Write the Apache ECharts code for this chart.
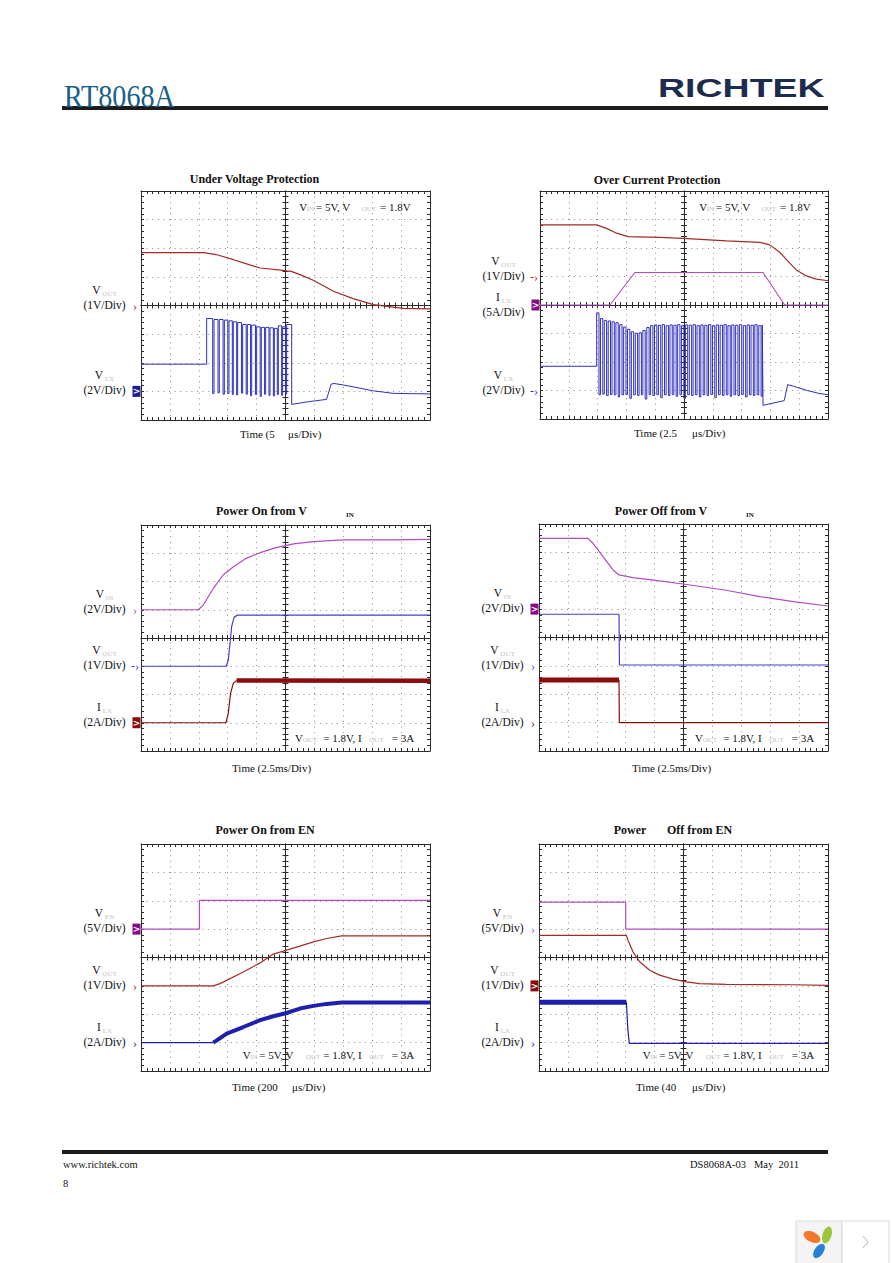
<!DOCTYPE html>
<html><head><meta charset="utf-8">
<script src="https://cdn.jsdelivr.net/npm/echarts@6/dist/echarts.min.js"></script>
<style>html,body{margin:0;padding:0;background:#fff}#c{width:892px;height:1263px}</style>
</head><body><div id="c"></div>
<script>
// ===================== DATA (read from the scope shots) =====================
// --- Under Voltage Protection (t in µs, V) ---
const uvpVout = [[0,1.85],[10.8,1.85],[13,1.78],[16,1.60],[18,1.47],[20.6,1.31],[24.6,1.23],[25.2,1.21],[26,1.19],[27.5,1.08],[29.8,0.88],[33.3,0.50],[36.7,0.24],[40.2,0.03],[45.4,-0.10],[50,-0.12]];
const uvpLxStart = [[0,1.90],[11.36,1.90]];
// each pulse: [t rise, V high, t fall, V low]
const uvpLxPulses = [
 [11.36,5.09,12.40,-0.15],[12.63,5.02,13.32,-0.10],[13.55,5.02,14.20,-0.20],[14.42,4.98,15.02,-0.15],
 [15.22,4.93,15.80,-0.22],[15.97,4.86,16.55,-0.25],[16.72,4.81,17.38,-0.12],[17.59,4.67,18.20,-0.20],
 [18.40,4.67,18.96,-0.30],[19.15,4.63,19.80,-0.22],[20.01,4.51,20.62,-0.35],[20.82,4.47,21.38,-0.20],
 [21.57,4.47,22.14,-0.28],[22.32,4.44,22.90,-0.32],[23.07,4.40,23.58,-0.22],[23.76,4.58,24.33,-0.28],
 [24.51,4.51,25.02,-0.20],[25.20,4.67,26.07,-0.91]];
const uvpLxEnd = [[29,-0.72],[32.1,-0.56],[32.9,0.51],[33.4,0.55],[35,0.45],[37.9,0.22],[40,0.05],[43.7,-0.14],[47,-0.16],[50,-0.18]];

// --- Over Current Protection (t in µs) ---
const ocpVout = [[0,1.81],[4.9,1.81],[5.78,1.69],[6.65,1.52],[7.66,1.40],[10.4,1.37],[12.43,1.34],[16.2,1.25],[19.1,1.20],[19.94,1.11],[20.81,0.85],[21.68,0.47],[22.25,0.23],[23.12,0.02],[23.99,-0.09],[24.86,-0.14],[25,-0.15]];
const ocpIl = [[0,0],[6.07,0],[8.24,5.7],[19.36,5.7],[21.24,0],[25,0]];
const ocpLxStart = [[0,1.70],[4.92,1.70]];
const ocpLxPulses = [
 [4.92,5.45,5.12,-0.30],[5.25,5.05,5.45,-0.25],[5.58,4.92,5.78,-0.35],[5.92,4.88,6.12,-0.28],
 [6.25,4.82,6.45,-0.30],[6.59,4.76,6.79,-0.45],[6.92,4.62,7.12,-0.30],[7.26,4.45,7.46,-0.28],
 [7.60,4.30,7.80,-0.55],[7.93,4.12,8.13,-0.30],[8.27,4.02,8.47,-0.35],[8.60,4.05,8.80,-0.30],
 [8.93,4.22,9.13,-0.60],[9.27,4.42,9.47,-0.30],[9.60,4.55,9.80,-0.35],[9.94,4.60,10.14,-0.30],
 [10.28,4.58,10.48,-0.50],[10.61,4.62,10.81,-0.30],[10.95,4.55,11.15,-0.35],[11.28,4.60,11.48,-0.28],
 [11.62,4.58,11.82,-0.40],[11.95,4.62,12.15,-0.30],[12.29,4.55,12.49,-0.55],[12.62,4.60,12.82,-0.30],
 [12.96,4.58,13.16,-0.35],[13.29,4.62,13.49,-0.30],[13.63,4.55,13.83,-0.45],[13.96,4.60,14.16,-0.30],
 [14.30,4.58,14.50,-0.35],[14.63,4.62,14.83,-0.28],[14.97,4.55,15.17,-0.50],[15.30,4.60,15.50,-0.30],
 [15.64,4.58,15.84,-0.35],[15.97,4.62,16.17,-0.30],[16.31,4.55,16.51,-0.40],[16.64,4.60,16.84,-0.30],
 [16.98,4.58,17.18,-0.35],[17.31,4.62,17.51,-0.28],[17.65,4.55,17.85,-0.45],[17.98,4.60,18.18,-0.30],
 [18.32,4.58,18.52,-0.35],[18.65,4.62,18.85,-0.30],[18.99,4.55,19.19,-0.40],[19.30,4.60,19.36,-1.04]];
const ocpLxEnd = [[21.2,-0.71],[21.5,0.41],[22.0,0.30],[23.2,0.00],[24.3,-0.22],[25,-0.29]];

// --- Power On from VIN (t in ms) ---
const pvinOnVin = [[0,0],[4.96,0],[5.4,0.35],[6.26,1.52],[7.1,2.46],[8.0,3.05],[9.1,3.64],[10.3,4.04],[11.7,4.40],[13.2,4.66],[14.9,4.82],[17.5,4.94],[21.8,4.95],[25,4.98]];
const pvinOnVout = [[0,0],[7.38,0],[7.55,0.22],[7.70,0.81],[7.84,1.40],[8.05,1.73],[8.35,1.81],[25,1.81]];
const pvinOnIl = [[0,0],[7.35,0],[7.55,0.67],[7.75,2.08],[7.98,2.79],[8.27,3.0]];
const pvinOnIlRipple = [[8.27,3.0],[25,2.98]];

// --- Power Off from VIN (t in ms) ---
const pvinOffVin = [[0,4.99],[4.24,4.99],[4.67,4.64],[5.54,3.70],[6.40,2.76],[6.92,2.41],[8.13,2.22],[10.44,1.99],[12.46,1.77],[16.2,1.33],[19.1,0.88],[22.0,0.53],[25,0.22]];
const pvinOffVout = [[0,1.82],[6.92,1.82],[6.96,0.03],[25,0.03]];
const pvinOffIlRipple = [[0,3.0],[6.92,3.0]];
const pvinOffIl = [[6.92,3.0],[6.95,0],[25,0]];

// --- Power On from EN (t in µs) ---
const enOnVen = [[0,0],[404,0],[404,5.05],[2000,5.05]];
const enOnVout = [[0,0],[500,0],[547,0.08],[708,0.49],[824,0.81],[916,1.12],[1008,1.26],[1100,1.40],[1193,1.55],[1285,1.67],[1389,1.76],[2000,1.76]];
const enOnIl = [[0,0],[500,0]];
const enOnIlRipple = [[500,0],[524,0.16],[593,0.64],[708,1.10],[824,1.58],[916,1.86],[1008,2.09],[1100,2.40],[1193,2.59],[1285,2.73],[1389,2.82],[2000,2.82]];

// --- Power Off from EN (t in µs) ---
const enOffVen = [[0,4.75],[120,4.75],[120,0],[400,0]];
const enOffVout = [[0,1.78],[120.9,1.78],[123.2,1.61],[130.1,1.20],[139.3,0.85],[153.2,0.55],[167,0.38],[185.5,0.24],[203.9,0.14],[222.4,0.08],[259.3,0.05],[351.6,0.04],[400,0.02]];
const enOffIlRipple = [[0,2.85],[121,2.85]];
const enOffIl = [[121,2.85],[123,0.9],[125,-0.05],[400,-0.05]];

// ===================== BUILD =====================
function pulseTrace(start, pulses, end){
  const pts = start.slice();
  pulses.forEach(p=>{
    const last = pts[pts.length-1][1];
    pts.push([p[0], last],[p[0], p[1]],[p[2], p[1]],[p[2], p[3]]);
  });
  return pts.concat(end);
}
const uvpVlx = pulseTrace(uvpLxStart, uvpLxPulses, uvpLxEnd);
const ocpVlx = pulseTrace(ocpLxStart, ocpLxPulses, ocpLxEnd);

const FONT = '"Liberation Serif","Times New Roman",serif';
const COL = {red:'#a22a2a', dred:'#8b0c0c', blue:'#2f2fbf', vblue:'#4040cc', iblue:'#1f1fae', mag:'#b24cc2', purp:'#870a86', navy:'#1a1a9c'};

const plots = [
 {grid:{left:141,top:191,width:289,height:229}, tMax:50, ch:[
   {n:'V',s:'OUT',d:'(1V/Div)',g:4,k:1,c:COL.red,m:'arrow',tr:[[uvpVout,1.2]]},
   {n:'V',s:'LX',d:'(2V/Div)',g:1,k:2,c:COL.blue,m:'box',mc:COL.navy,tr:[[uvpVlx,1]]}]},
 {grid:{left:540,top:191,width:288,height:228}, tMax:25, ch:[
   {n:'V',s:'OUT',d:'(1V/Div)',g:5,k:1,c:COL.red,m:'dash',tr:[[ocpVout,1.2]]},
   {n:'I',s:'LX',d:'(5A/Div)',g:4,k:5,c:COL.mag,m:'box',mc:COL.purp,dy:8,tr:[[ocpIl,1.1]]},
   {n:'V',s:'LX',d:'(2V/Div)',g:1,k:2,c:COL.blue,m:'dash',tr:[[ocpVlx,1]]}]},
 {grid:{left:141,top:525,width:289,height:226}, tMax:25, ch:[
   {n:'V',s:'IN',d:'(2V/Div)',g:5,k:2,c:COL.mag,m:'arrow',tr:[[pvinOnVin,1.2]]},
   {n:'V',s:'OUT',d:'(1V/Div)',g:3,k:1,c:COL.vblue,m:'dash',tr:[[pvinOnVout,1.2]]},
   {n:'I',s:'LX',d:'(2A/Div)',g:1,k:2,c:COL.dred,m:'box',mc:COL.dred,tr:[[pvinOnIl,1.2],[pvinOnIlRipple,4.5]]}]},
 {grid:{left:539,top:524,width:289,height:227}, tMax:25, ch:[
   {n:'V',s:'IN',d:'(2V/Div)',g:5,k:2,c:COL.mag,m:'box',mc:COL.purp,tr:[[pvinOffVin,1.2]]},
   {n:'V',s:'OUT',d:'(1V/Div)',g:3,k:1,c:COL.vblue,m:'arrow',tr:[[pvinOffVout,1.2]]},
   {n:'I',s:'LX',d:'(2A/Div)',g:1,k:2,c:COL.dred,m:'arrow',tr:[[pvinOffIl,1.2],[pvinOffIlRipple,5]]}]},
 {grid:{left:141,top:844,width:289,height:227}, tMax:2000, ch:[
   {n:'V',s:'EN',d:'(5V/Div)',g:5,k:5,c:COL.mag,m:'box',mc:COL.purp,tr:[[enOnVen,1.2]]},
   {n:'V',s:'OUT',d:'(1V/Div)',g:3,k:1,c:COL.red,m:'arrow',tr:[[enOnVout,1.2]]},
   {n:'I',s:'LX',d:'(2A/Div)',g:1,k:2,c:COL.iblue,m:'arrow',tr:[[enOnIl,1.2],[enOnIlRipple,4]]}]},
 {grid:{left:539,top:844,width:289,height:227}, tMax:400, ch:[
   {n:'V',s:'EN',d:'(5V/Div)',g:5,k:5,c:COL.mag,m:'arrow',tr:[[enOffVen,1.2]]},
   {n:'V',s:'OUT',d:'(1V/Div)',g:3,k:1,c:COL.red,m:'box',mc:COL.dred,tr:[[enOffVout,1.2]]},
   {n:'I',s:'LX',d:'(2A/Div)',g:1,k:2,c:COL.iblue,m:'arrow',tr:[[enOffIl,1.2],[enOffIlRipple,5]]}]}
];

const grid=[], xAxis=[], yAxis=[], series=[];
const lineC = '#2a2a2a';
function frameAxis(gi, min, max, interval, position, offset, inside, split){
  return {gridIndex:gi, type:'value', min, max, interval, position, offset:offset||0,
    axisLabel:{show:false}, silent:true,
    axisLine:{show:true, onZero:false, lineStyle:{color:lineC, width:1}},
    axisTick:{show:true, inside:inside, length:3, lineStyle:{color:lineC, width:1}},
    minorTick:{show:true, splitNumber:5, length:3, lineStyle:{color:lineC, width:1}},
    splitLine:{show:!!split, lineStyle:{color:'#8c8c8c', width:1, type:[1,4.6]}},
    minorSplitLine:{show:false}};
}
plots.forEach((p,gi)=>{
  grid.push(Object.assign({}, p.grid));
  const w=p.grid.width, h=p.grid.height, T=p.tMax, iv=T/10;
  const xIdx = xAxis.length;
  xAxis.push(frameAxis(gi,0,T,iv,'bottom',0,true,true));
  xAxis.push(frameAxis(gi,0,T,iv,'top',0,true,false));
  xAxis.push(frameAxis(gi,0,T,iv,'bottom',-h/2,true,false));
  xAxis.push(frameAxis(gi,0,T,iv,'bottom',-h/2,false,false));
  yAxis.push(frameAxis(gi,0,8,1,'left',0,true,true));
  yAxis.push(frameAxis(gi,0,8,1,'right',0,true,false));
  yAxis.push(frameAxis(gi,0,8,1,'left',-w/2,true,false));
  yAxis.push(frameAxis(gi,0,8,1,'left',-w/2,false,false));
  p.ch.forEach(ch=>{
    const yIdx = yAxis.length;
    yAxis.push({gridIndex:gi, type:'value', min:-ch.g*ch.k, max:(8-ch.g)*ch.k, show:false});
    ch.tr.forEach((tr,ti)=>{
      const s = {type:'line', xAxisIndex:xIdx, yAxisIndex:yIdx, data:tr[0], symbol:'none', showSymbol:false,
        clip:true, silent:true, animation:false, z:3,
        lineStyle:{color:ch.c, width:tr[1]}};
      if(ti===0){
        const marker = ch.m==='box'
          ? {coord:[0,0], symbol:'rect', symbolSize:[8,11], symbolOffset:[-4.5,0], itemStyle:{color:ch.mc},
             label:{show:true, formatter:'>', position:'inside', color:'#fff', fontSize:9, fontWeight:'bold', fontFamily:'DejaVu Sans'}}
          : {coord:[0,0], symbol:'rect', symbolSize:[10,10], symbolOffset:[-6,0], itemStyle:{color:'rgba(0,0,0,0)'},
             label:{show:true, formatter: ch.m==='dash' ? '-›' : '›', position:'inside', color:ch.c, fontSize:12, fontFamily:FONT}};
        const lbl = {coord:[0,0], symbol:'rect', symbolSize:1, itemStyle:{color:'rgba(0,0,0,0)'},
          label:{show:true, position:[-36, 7+(ch.dy||0)], align:'center', verticalAlign:'bottom',
            formatter:'{n|'+ch.n+'}{s| '+ch.s+'}\n{d|'+ch.d+'}',
            rich:{n:{fontFamily:FONT,fontSize:11.5,color:'#111',lineHeight:15},
                  s:{fontFamily:FONT,fontSize:7,color:'#c2c2c2',lineHeight:15,verticalAlign:'bottom'},
                  d:{fontFamily:FONT,fontSize:11.5,color:'#111',lineHeight:15}}}};
        s.markPoint = {silent:true, animation:false, data:[marker, lbl]};
      }
      series.push(s);
    });
  });
});

// ===================== TEXT / DECORATION =====================
const G = [];
function T(x,y,text,o){
  o=o||{};
  G.push({type:'text', x, y, silent:true, z:10, scaleX:o.sx||1,
    style:{text, fill:o.fill||'#111', font:o.font||('11px '+FONT),
      textAlign:o.align||'left', textVerticalAlign:'middle'}});
}
const SUB = {font:'7px '+FONT, fill:'#c2c2c2'};
const BOLD = {font:'bold 12px '+FONT, align:'center'};
// header
G.push({type:'rect', shape:{x:62,y:106,width:766,height:4}, style:{fill:'#1c1c1c'}, silent:true});
T(64,96,'RT8068A',{font:'32px '+FONT, fill:'#1b5f88', sx:0.88});
T(658,88,'RICHTEK',{font:'bold 25px "Liberation Sans",Arial,sans-serif', fill:'#1c2c4e', sx:1.5});
// footer
G.push({type:'rect', shape:{x:62,y:1150,width:766,height:4}, style:{fill:'#1c1c1c'}, silent:true});
T(63,1164,'www.richtek.com',{font:'10.5px '+FONT});
T(799,1164,'DS8068A-03   May  2011',{font:'10.5px '+FONT, align:'right'});
T(63,1183,'8',{font:'10.5px '+FONT});

// plot 1
T(254.5,179,'Under Voltage Protection',BOLD);
T(240,433.5,'Time (5'); T(288,433.5,'\u03bcs/Div)');
T(299.3,207,'V'); T(306.7,209,'IN',SUB); T(316,207,'= 5V, V'); T(361.7,209,'OUT',SUB); T(380,207,'= 1.8V');
// plot 2
T(657,180,'Over Current Protection',BOLD);
T(634,433,'Time (2.5'); T(692,433,'\u03bcs/Div)');
T(699.3,207,'V'); T(706.7,209,'IN',SUB); T(716,207,'= 5V, V'); T(761.7,209,'OUT',SUB); T(780,207,'= 1.8V');
// plot 3
T(261.5,511,'Power On from V',BOLD); T(346,515,'IN',{font:'bold 7px '+FONT});
T(232,768,'Time (2.5ms/Div)');
T(295,738,'V'); T(302.7,740,'OUT',SUB); T(323.3,738,'= 1.8V, I'); T(369.3,740,'OUT',SUB); T(391.7,738,'= 3A');
// plot 4
T(661,511,'Power Off from V',BOLD); T(746,515,'IN',{font:'bold 7px '+FONT});
T(632,768,'Time (2.5ms/Div)');
T(695,738,'V'); T(702.7,740,'OUT',SUB); T(723.3,738,'= 1.8V, I'); T(769.3,740,'OUT',SUB); T(791.7,738,'= 3A');
// plot 5
T(265,830,'Power On from EN',BOLD);
T(232,1087,'Time (200'); T(292,1087,'\u03bcs/Div)');
T(242.7,1055,'V'); T(250,1057,'IN',SUB); T(259.3,1055,'= 5V, V'); T(306,1057,'OUT',SUB); T(323.3,1055,'= 1.8V, I'); T(369.3,1057,'OUT',SUB); T(391.7,1055,'= 3A');
// plot 6
T(630,830,'Power',BOLD); T(699.5,830,'Off from EN',BOLD);
T(636,1087,'Time (40'); T(692,1087,'\u03bcs/Div)');
T(642.7,1055,'V'); T(650,1057,'IN',SUB); T(659.3,1055,'= 5V, V'); T(706,1057,'OUT',SUB); T(723.3,1055,'= 1.8V, I'); T(769.3,1057,'OUT',SUB); T(791.7,1055,'= 3A');

// viewer widget (bottom right)
G.push({type:'rect', shape:{x:796,y:1221,width:46,height:43}, style:{fill:'#f4f4f4', stroke:'#dadada', lineWidth:1}, silent:true});
G.push({type:'rect', shape:{x:842,y:1221,width:47,height:43}, style:{fill:'#fff', stroke:'#dadada', lineWidth:1}, silent:true});
G.push({type:'circle', shape:{cx:0,cy:0,r:6}, x:812, y:1237, scaleX:1.5, scaleY:0.85, rotation:-0.45, style:{fill:'#f07a2a'}, silent:true});
G.push({type:'circle', shape:{cx:0,cy:0,r:6}, x:827, y:1235, scaleX:0.75, scaleY:1.45, rotation:-0.3, style:{fill:'#9cc63c'}, silent:true});
G.push({type:'circle', shape:{cx:0,cy:0,r:6}, x:819, y:1251, scaleX:0.75, scaleY:1.35, rotation:-0.6, style:{fill:'#2a80d2'}, silent:true});
G.push({type:'polyline', shape:{points:[[863,1236],[868,1242],[863,1248]]}, style:{stroke:'#b8b8b8', lineWidth:1, fill:null}, silent:true});

const chart = echarts.init(document.getElementById('c'), null, {renderer:'svg'});
chart.setOption({animation:false, backgroundColor:'#fff', grid, xAxis, yAxis, series, graphic:{elements:G}});
</script></body></html>
